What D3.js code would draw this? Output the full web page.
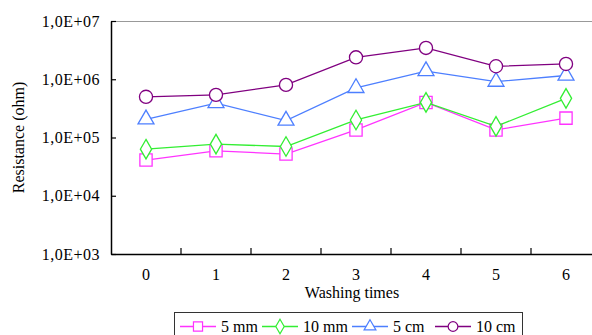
<!DOCTYPE html>
<html><head><meta charset="utf-8">
<script src="https://cdn.jsdelivr.net/npm/d3@7"></script>
<style>
html,body{margin:0;padding:0;background:#fff;}
svg, svg text{font-family:"Liberation Serif","Times New Roman",serif !important;}
</style></head>
<body>
<script>
const categories = ["0","1","2","3","4","5","6"];
const seriesNames = ["5 mm","10 mm","5 cm","10 cm"];
const s5mm  = [4.1e4, 5.9e4, 5.2e4, 1.35e5, 4.0e5, 1.35e5, 2.15e5];
const s10mm = [6.3e4, 7.7e4, 7.0e4, 2.0e5, 4.0e5, 1.55e5, 4.7e5];
const s5cm  = [2.05e5, 3.9e5, 1.95e5, 7.1e5, 1.38e6, 9.1e5, 1.16e6];
const s10cm = [5.0e5, 5.4e5, 8.0e5, 2.38e6, 3.45e6, 1.67e6, 1.83e6];
const yTicks = [1e3, 1e4, 1e5, 1e6, 1e7];
const yTickLabels = ["1,0E+03","1,0E+04","1,0E+05","1,0E+06","1,0E+07"];
const colors = ["#ff33ff","#33ee33","#4d7fff","#800080"];
const symbols = ["square","diamond","triangle","circle"];

const W = 592, H = 335;
const m = {left:111, top:21, right:601, bottom:254};
const svg = d3.select("body").append("svg").attr("width",W).attr("height",H);

const x = d3.scaleBand().domain(categories).range([m.left, m.right]);
const y = d3.scaleLog().domain([1e3,1e7]).range([m.bottom, m.top]);

// top border
svg.append("line").attr("x1",m.left).attr("x2",W).attr("y1",m.top+0.5).attr("y2",m.top+0.5)
  .attr("stroke","#999").attr("stroke-width",1.2);

// y axis
const yAxis = d3.axisLeft(y).tickValues(yTicks).tickFormat((d,i)=>yTickLabels[i]).tickSizeInner(-5).tickSizeOuter(0).tickPadding(11);
const gy = svg.append("g").attr("transform",`translate(${m.left},0)`).call(yAxis)
  .attr("font-family",null).attr("font-size",16);
gy.select(".domain").attr("stroke","#000").attr("stroke-width",1.5);
gy.selectAll(".tick line").attr("stroke","#000").attr("stroke-width",1.2);
gy.selectAll("text").attr("fill","#000").style("letter-spacing","0.5px");

// x axis
const xAxis = d3.axisBottom(x).tickSize(0).tickPadding(15);
const gx = svg.append("g").attr("transform",`translate(0,${m.bottom})`).call(xAxis)
  .attr("font-family",null).attr("font-size",16);
gx.select(".domain").attr("stroke","#000").attr("stroke-width",1.5);
gx.selectAll("text").attr("fill","#000");
// boundary ticks between categories (inward)
categories.slice(1).forEach(c=>{
  const xx = x(c);
  svg.append("line").attr("x1",xx).attr("x2",xx).attr("y1",m.bottom).attr("y2",m.bottom-6)
    .attr("stroke","#000").attr("stroke-width",1.2);
});

// axis titles
svg.append("text").attr("x",(m.left+m.right)/2 - 4).attr("y",298).attr("text-anchor","middle")
  .attr("font-size",16).text("Washing times");
svg.append("text").attr("transform",`translate(24,${(m.top+m.bottom)/2}) rotate(-90)`)
  .attr("text-anchor","middle").attr("font-size",16).text("Resistance (ohm)");

const allSeries = [s5mm, s10mm, s5cm, s10cm];
const cx = c => x(c) + x.bandwidth()/2;

function symPath(type, size){
  const map = {square:d3.symbolSquare, diamond:d3.symbolDiamond, triangle:d3.symbolTriangle, circle:d3.symbolCircle};
  return d3.symbol().type(map[type]).size(size)();
}
const symSize = {square:150, diamond:110, triangle:110, circle:135};

allSeries.forEach((vals,i)=>{
  const line = d3.line().x((d,j)=>cx(categories[j])).y(d=>y(d));
  svg.append("path").datum(vals).attr("d",line).attr("fill","none")
    .attr("stroke",colors[i]).attr("stroke-width",1.3);
  svg.append("g").selectAll("path").data(vals).join("path")
    .attr("transform",(d,j)=>`translate(${cx(categories[j])},${y(d)})`)
    .attr("d",symPath(symbols[i], symSize[symbols[i]]))
    .attr("fill","#fff").attr("stroke",colors[i]).attr("stroke-width",1.3);
});

// legend
const lg = svg.append("g");
lg.append("rect").attr("x",174.5).attr("y",312.5).attr("width",348).attr("height",30)
  .attr("fill","#fff").attr("stroke","#333").attr("stroke-width",1);
const legX = [180, 262, 352, 435];
const legY = 326.5;
seriesNames.forEach((n,i)=>{
  const g = lg.append("g");
  g.append("line").attr("x1",legX[i]).attr("x2",legX[i]+36).attr("y1",legY).attr("y2",legY)
    .attr("stroke",colors[i]).attr("stroke-width",1.3);
  g.append("path").attr("transform",`translate(${legX[i]+18},${legY})`)
    .attr("d",symPath(symbols[i], symSize[symbols[i]]*0.55))
    .attr("fill","#fff").attr("stroke",colors[i]).attr("stroke-width",1.2);
  g.append("text").attr("x",legX[i]+41).attr("y",legY+5.5).attr("font-size",16).text(n);
});
</script>
</body></html>
